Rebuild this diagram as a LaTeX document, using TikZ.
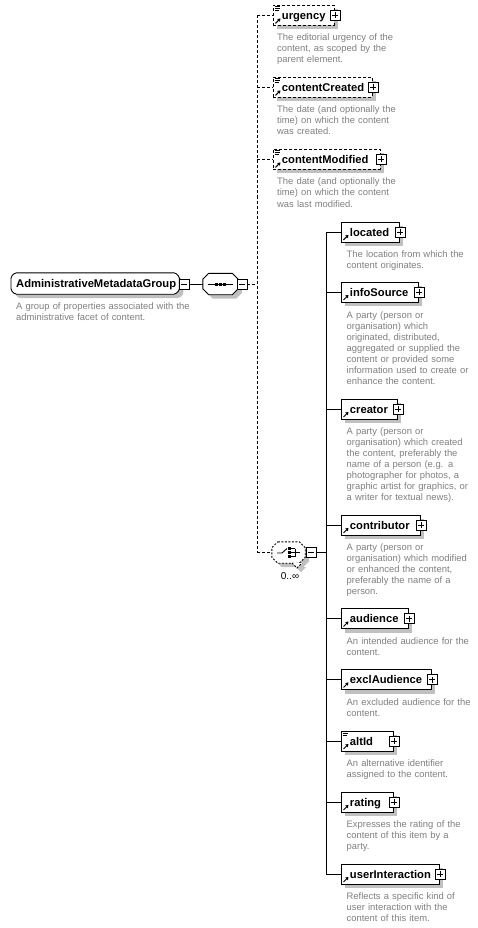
\documentclass[tikz,border=0pt]{standalone}
\usepackage{fontspec}
\setmainfont{Liberation Sans}
\usetikzlibrary{arrows.meta,shadows}
\pgfdeclarelayer{bg}
\pgfsetlayers{bg,main}
\definecolor{descgray}{RGB}{128,128,128}
\definecolor{shadowgray}{RGB}{192,192,192}
\newcommand\elemfont{\fontsize{11.2}{13}\selectfont\bfseries}
\newcommand\descfont{\fontsize{9.4}{11}\selectfont}
\newcommand\octo[4]{%
  \path[#1] ([shift={#4},xshift=#3]#2.north west) -- ([shift={#4},xshift=-#3]#2.north east)
   -- ([shift={#4},yshift=-#3]#2.north east) -- ([shift={#4},yshift=#3]#2.south east)
   -- ([shift={#4},xshift=-#3]#2.south east) -- ([shift={#4},xshift=#3]#2.south west)
   -- ([shift={#4},yshift=#3]#2.south west) -- ([shift={#4},yshift=-#3]#2.north west) -- cycle;}
\newcommand\refarrow[1]{\draw[line width=1pt,-{Triangle[length=2.8pt,width=3.6pt]}] ([shift={(2.5pt,2.5pt)}]#1.south west) -- ([shift={(7.5pt,7.5pt)}]#1.south west);}
\newcommand\texticon[1]{\draw[line width=0.7pt] ([shift={(1.5pt,-1.2pt)}]#1.north west) -- +(5pt,0pt) ([shift={(1.5pt,-3.2pt)}]#1.north west) -- +(5pt,0pt) ([shift={(1.5pt,-5.2pt)}]#1.north west) -- +(4pt,0pt);}
\tikzset{
 elembox/.style={draw, fill=white, line width=0.9pt, minimum height=20pt, inner xsep=8.5pt, inner ysep=0pt, anchor=west, align=left, font=\elemfont, text height=8.5pt, text depth=0pt, general shadow={fill=shadowgray, shadow xshift=4pt, shadow yshift=-4pt}},
 optbox/.style={elembox, dash pattern=on 3pt off 2pt},
 pmbox/.style={draw, fill=white, line width=0.8pt, minimum size=10pt, inner sep=0pt},
 plusbox/.style={pmbox, path picture={\draw[line width=0.8pt] ([yshift=-2pt]path picture bounding box.north) -- ([yshift=2pt]path picture bounding box.south) ([xshift=2pt]path picture bounding box.west) -- ([xshift=-2pt]path picture bounding box.east);}},
 minusbox/.style={pmbox, path picture={\draw[line width=0.8pt] ([xshift=2pt]path picture bounding box.west) -- ([xshift=-2pt]path picture bounding box.east);}},
 desc/.style={anchor=base west, inner sep=0pt, font=\descfont, text=descgray, align=left, text width=180pt},
 conn/.style={line width=0.9pt},
 optconn/.style={conn, dash pattern=on 3pt off 2pt},
 compbox/.style={inner sep=0pt, minimum height=21pt},
}
\begin{document}
\begin{tikzpicture}[x=1pt,y=-1pt]
\useasboundingbox (0,0) rectangle (478,928);
\begin{pgfonlayer}{bg}
\fill[white] (0,0) rectangle (478,928);
\end{pgfonlayer}

% group
\node[compbox, inner xsep=5pt, anchor=west, align=left, text width=158pt, font=\elemfont, text height=8.5pt, text depth=0pt] (grp) at (11,283.5) {AdministrativeMetadataGroup};
\node[minusbox] (grpM) at (184,284) {};
\node[desc] (grpD) at (16,309) {A group of properties associated with the\\administrative facet of content.};

% sequence
\node[compbox, minimum width=35pt] (seq) at (220.5,284) {};
\node[minusbox] (seqM) at (242,284) {};
\draw[line width=1pt] ([xshift=-12.5pt]seq.center) -- ([xshift=12.5pt]seq.center);
\foreach \d in {-4,0,4} {\fill ([shift={(\d pt-1.5pt,-1.5pt)}]seq.center) rectangle +(3pt,3pt);}

% choice
\node[compbox, minimum width=33pt] (ch) at (288.5,552.5) {};
\node[minusbox] (chM) at (311,552.5) {};
\node[font=\fontsize{10}{11}\selectfont, inner sep=0pt, anchor=base] (chL) at (290,579) {0..∞};
\draw[line width=0.9pt] ([shift={(-11.5pt,-0.5pt)}]ch.center) -- ([shift={(-6.5pt,-0.5pt)}]ch.center) -- ([shift={(-1.5pt,4pt)}]ch.center);
\foreach \d in {4,0,-4} {
  \fill ([shift={(-0.3pt,\d pt-1.4pt)}]ch.center) rectangle +(2.8pt,2.8pt);
  \draw[line width=0.8pt] ([shift={(2.5pt,\d pt)}]ch.center) -- ([shift={(6.5pt,\d pt)}]ch.center);
}
\draw[line width=0.8pt] ([shift={(6.5pt,4pt)}]ch.center) -- ([shift={(6.5pt,-4pt)}]ch.center);
\draw[line width=0.8pt] ([shift={(6.5pt,0pt)}]ch.center) -- ([shift={(11.5pt,0pt)}]ch.center);

\begin{pgfonlayer}{bg}
\octo{fill=shadowgray, rounded corners=1.5pt}{grp}{4pt}{(4pt,-4pt)}
\octo{draw, fill=white, line width=0.9pt, rounded corners=1.5pt}{grp}{4pt}{(0pt,0pt)}
\octo{fill=shadowgray}{seq}{6pt}{(4pt,-4pt)}
\octo{draw, fill=white, line width=0.9pt}{seq}{6pt}{(0pt,0pt)}
\octo{fill=shadowgray}{ch}{6pt}{(4pt,-4pt)}
\fill[shadowgray] ([shift={(7.5pt,-14.5pt)}]ch.center) -- ++(5pt,-5pt) -- ++(5pt,5pt) -- cycle;
\octo{draw, fill=white, line width=0.9pt, dash pattern=on 2pt off 1.5pt}{ch}{6pt}{(0pt,0pt)}
\fill[white] ([shift={(3.5pt,-10.5pt)}]ch.center) -- ++(5pt,-5pt) -- ++(5pt,5pt) -- cycle;
\draw[line width=0.9pt, dash pattern=on 2pt off 1.5pt] ([shift={(3.5pt,-10.5pt)}]ch.center) -- ++(5pt,-5pt) -- ++(5pt,5pt);
\end{pgfonlayer}

% optional top elements
\node[optbox, text width=44pt] (urg) at (273,15.5) {urgency};
\node[optbox, text width=82pt] (cc) at (273,87.5) {contentCreated};
\node[optbox, text width=90pt] (cm) at (273,159.5) {contentModified};
\node[plusbox] (urgP) at (urg.east) {};
\node[plusbox] (ccP) at (cc.east) {};
\node[plusbox] (cmP) at (cm.east) {};
\node[desc] (urgD) at (277,41) {The editorial urgency of the\\content, as scoped by the\\parent element.};
\node[desc] (ccD) at (277,113) {The date (and optionally the\\time) on which the content\\was created.};
\node[desc] (cmD) at (277,185) {The date (and optionally the\\time) on which the content\\was last modified.};

% choice elements
\node[elembox, text width=41pt] (loc) at (341,232) {located};
\node[elembox, text width=60pt] (info) at (341,292) {infoSource};
\node[elembox, text width=39pt] (cre) at (341,409) {creator};
\node[elembox, text width=62pt] (con) at (341,525) {contributor};
\node[elembox, text width=50pt] (aud) at (341,618.5) {audience};
\node[elembox, text width=73pt] (exa) at (341,679.5) {exclAudience};
\node[elembox, text width=35pt] (alt) at (341,741) {altId};
\node[elembox, text width=35pt] (rat) at (341,802) {rating};
\node[elembox, text width=81pt] (ui) at (341,874) {userInteraction};
\foreach \n in {loc,info,cre,con,aud,exa,alt,rat,ui} {\node[plusbox] (\n P) at (\n.east) {};}
\foreach \n in {urg,cc,cm,loc,info,cre,con,aud,exa,alt,rat,ui} {\refarrow{\n}}
\foreach \n in {urg,cc,cm,alt} {\texticon{\n}}

\node[desc] (locD) at (346.5,257) {The location from which the\\content originates.};
\node[desc] (infoD) at (346.5,318) {A party (person or\\organisation) which\\originated, distributed,\\aggregated or supplied the\\content or provided some\\information used to create or\\enhance the content.};
\node[desc] (creD) at (346.5,434) {A party (person or\\organisation) which created\\the content, preferably the\\name of a person (e.g. a\\photographer for photos, a\\graphic artist for graphics, or\\a writer for textual news).};
\node[desc] (conD) at (346.5,550) {A party (person or\\organisation) which modified\\or enhanced the content,\\preferably the name of a\\person.};
\node[desc] (audD) at (346.5,644) {An intended audience for the\\content.};
\node[desc] (exaD) at (346.5,705) {An excluded audience for the\\content.};
\node[desc] (altD) at (346.5,766) {An alternative identifier\\assigned to the content.};
\node[desc] (ratD) at (346.5,827) {Expresses the rating of the\\content of this item by a\\party.};
\node[desc] (uiD) at (346.5,899) {Reflects a specific kind of\\user interaction with the\\content of this item.};

% connectors
\draw[conn] (grpM.east) -- (seq.west);
\coordinate (sj) at (257,284);
\draw[optconn] (seqM.east) -- (sj);
\draw[optconn] (urg.west -| sj) -- (ch.west -| sj);
\foreach \n in {urg,cc,cm,ch} {\draw[optconn] (\n.west -| sj) -- (\n.west);}
\coordinate (cj) at (326,552.5);
\draw[conn] (chM.east) -- (cj);
\draw[conn] (loc.west -| cj) -- (ui.west -| cj);
\foreach \n in {loc,info,cre,con,aud,exa,alt,rat,ui} {\draw[conn] (\n.west -| cj) -- (\n.west);}
\end{tikzpicture}
\end{document}
